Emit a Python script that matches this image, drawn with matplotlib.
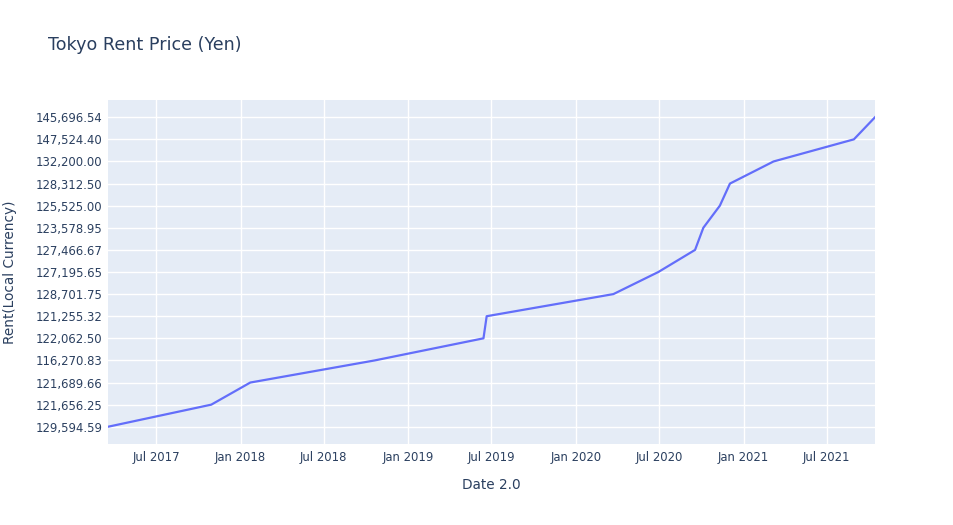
import matplotlib.pyplot as plt
import matplotlib.dates as mdates
import numpy as np

# dates, rent values are category labels (plotly treated them as strings)
dates = np.array(["2017-03-18", "2017-10-29", "2018-01-22", "2018-10-20", "2019-06-14",
                  "2019-06-21", "2020-03-23", "2020-06-29", "2020-09-17", "2020-10-05",
                  "2020-11-10", "2020-12-02", "2021-03-07", "2021-08-29", "2021-10-14"],
                 dtype="datetime64[D]")
rents = ["129,594.59", "121,656.25", "121,689.66", "116,270.83", "122,062.50",
         "121,255.32", "128,701.75", "127,195.65", "127,466.67", "123,578.95",
         "125,525.00", "128,312.50", "132,200.00", "147,524.40", "145,696.54"]

plt.rcParams['font.family'] = ['DejaVu Sans']
txt = '#2a3f5f'

fig = plt.figure(figsize=(9.54, 5.25), dpi=100)
ax = fig.add_axes([108/954, (525-444)/525, (875-108)/954, 344/525])
ax.set_facecolor('#e5ecf6')

ax.plot(dates, rents, color='#636efa', lw=1.6)

ax.set_xlim(dates[0], dates[-1])
ax.set_ylim(-0.78, len(rents) - 1 + 0.78)

ax.xaxis.set_major_locator(mdates.MonthLocator(bymonth=(1, 7)))
ax.xaxis.set_major_formatter(mdates.DateFormatter('%b %Y'))

ax.grid(True, color='white', lw=1)
ax.set_axisbelow(True)
for s in ax.spines.values():
    s.set_visible(False)
ax.tick_params(length=0, labelsize=8.4, labelcolor=txt)
ax.tick_params(axis='y', pad=4)
ax.tick_params(axis='x', pad=5)

ax.set_xlabel("Date 2.0", fontsize=9.8, color=txt, labelpad=10)
ax.set_ylabel("Rent(Local Currency)", fontsize=9.8, color=txt, labelpad=13)
fig.text(48/954, 1 - 45/525, "Tokyo Rent Price (Yen)", fontsize=12.6, color=txt, va='center')

fig.savefig("out.png", dpi=100)
